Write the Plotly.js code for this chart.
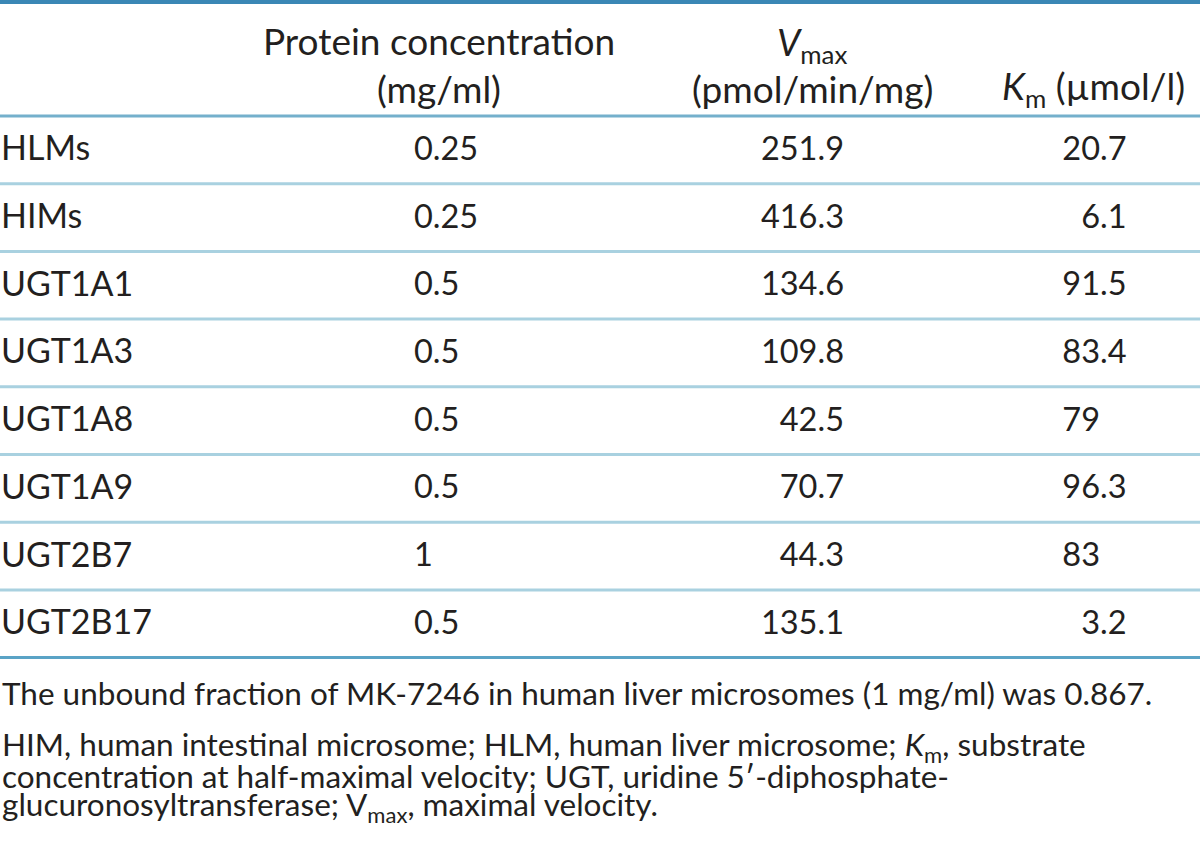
<!DOCTYPE html>
<html>
<head>
<meta charset="utf-8">
<script src="https://cdn.plot.ly/plotly-3.0.1.min.js"></script>
<style>html,body{margin:0;padding:0;background:#fff;}#chart{width:1200px;height:853px;}</style>
</head>
<body>
<div id="chart"></div>
<script>
// ---- data ----
const rowLabels = ['HLMs', 'HIMs', 'UGT1A1', 'UGT1A3', 'UGT1A8', 'UGT1A9', 'UGT2B7', 'UGT2B17'];
const proteinConc = ['0.25', '0.25', '0.5', '0.5', '0.5', '0.5', '1', '0.5'];
const vmaxValues = ['251.9', '416.3', '134.6', '109.8', '42.5', '70.7', '44.3', '135.1'];
const kmValues = ['20.7', '6.1', '91.5', '83.4', '79', '96.3', '83', '3.2'];
const footnote1 = 'The unbound fraction of MK-7246 in human liver microsomes (1 mg/ml) was 0.867.';
const footnote2 = [
  'HIM, human intestinal microsome; HLM, human liver microsome; <i>K</i><sub>m</sub>, substrate',
  'concentration at half-maximal velocity; UGT, uridine 5\u2032-diphosphate-',
  'glucuronosyltransferase; V<sub>max</sub>, maximal velocity.'
];

// ---- layout constants ----
const W = 1200, H = 853;
const FONT = 'Lato, "Noto Sans", sans-serif';
const TXT = '#231f20';
const headerBottom = 116;
const pitch = 67.7;
const textShift = 2;
const xLabel = 1, xProt = 414, xVmax = 844, xKmDec = 1100;
const fsNum = 32.5, fsLabel = 34, fsHead = 37, fsFoot = 31.5;

const rowY = rowLabels.map((_, i) => headerBottom + (i + 0.5) * pitch + textShift);

const kmInt = kmValues.map(v => v.split('.')[0]);
const fracIdx = kmValues.map((v, i) => v.includes('.') ? i : -1).filter(i => i >= 0);
const kmFrac = fracIdx.map(i => '.' + kmValues[i].split('.')[1]);

function textTrace(xs, ys, texts, pos, size) {
  return {
    type: 'scatter', mode: 'text', x: xs, y: ys, text: texts,
    textposition: pos, textfont: {family: FONT, size: size, color: TXT},
    hoverinfo: 'skip', showlegend: false, cliponaxis: false
  };
}

const traces = [
  textTrace(rowLabels.map(() => xLabel), rowY, rowLabels, 'middle right', fsLabel),
  textTrace(proteinConc.map(() => xProt), rowY, proteinConc, 'middle right', fsNum),
  textTrace(vmaxValues.map(() => xVmax), rowY, vmaxValues, 'middle left', fsNum),
  textTrace(kmInt.map(() => xKmDec), rowY, kmInt, 'middle left', fsNum),
  textTrace(fracIdx.map(() => xKmDec), fracIdx.map(i => rowY[i]), kmFrac, 'middle right', fsNum)
];

const shapes = [];
function hline(y, color, w) {
  shapes.push({type: 'line', xref: 'x', yref: 'y', x0: 0, x1: W, y0: y, y1: y,
    line: {color: color, width: w}});
}
hline(2, '#3a87b5', 4);
hline(headerBottom, '#74b0cc', 3);
for (let i = 1; i < rowLabels.length; i++) hline(headerBottom + i * pitch, '#a9d1e0', 3);
hline(headerBottom + rowLabels.length * pitch, '#5aa3c6', 3);

function ann(x, y, text, xanchor, size) {
  return {x: x, y: y, xref: 'x', yref: 'y', text: text, showarrow: false,
    xanchor: xanchor, yanchor: 'middle', align: xanchor === 'center' ? 'center' : 'left',
    font: {family: FONT, size: size, color: TXT}};
}

const annotations = [
  ann(439, 40, 'Protein concentration', 'center', fsHead),
  ann(439, 88, '(mg/ml)', 'center', fsHead),
  ann(812, 44, '<i>V</i><sub>max</sub>', 'center', fsHead),
  ann(812, 88, '(pmol/min/mg)', 'center', fsHead),
  ann(1000, 88, '<i>K</i><sub>m</sub> (\u00b5mol/l)', 'left', fsHead),
  ann(0, 693, footnote1, 'left', fsFoot),
  ann(0, 746, footnote2[0], 'left', fsFoot),
  ann(0, 776, footnote2[1], 'left', fsFoot),
  ann(0, 806, footnote2[2], 'left', fsFoot)
];

const layout = {
  width: W, height: H,
  margin: {l: 0, r: 0, t: 0, b: 0},
  paper_bgcolor: '#ffffff', plot_bgcolor: '#ffffff',
  xaxis: {range: [0, W], visible: false, fixedrange: true},
  yaxis: {range: [H, 0], visible: false, fixedrange: true},
  shapes: shapes, annotations: annotations, showlegend: false
};

Plotly.newPlot('chart', traces, layout, {staticPlot: true, displayModeBar: false});
</script>
</body>
</html>
